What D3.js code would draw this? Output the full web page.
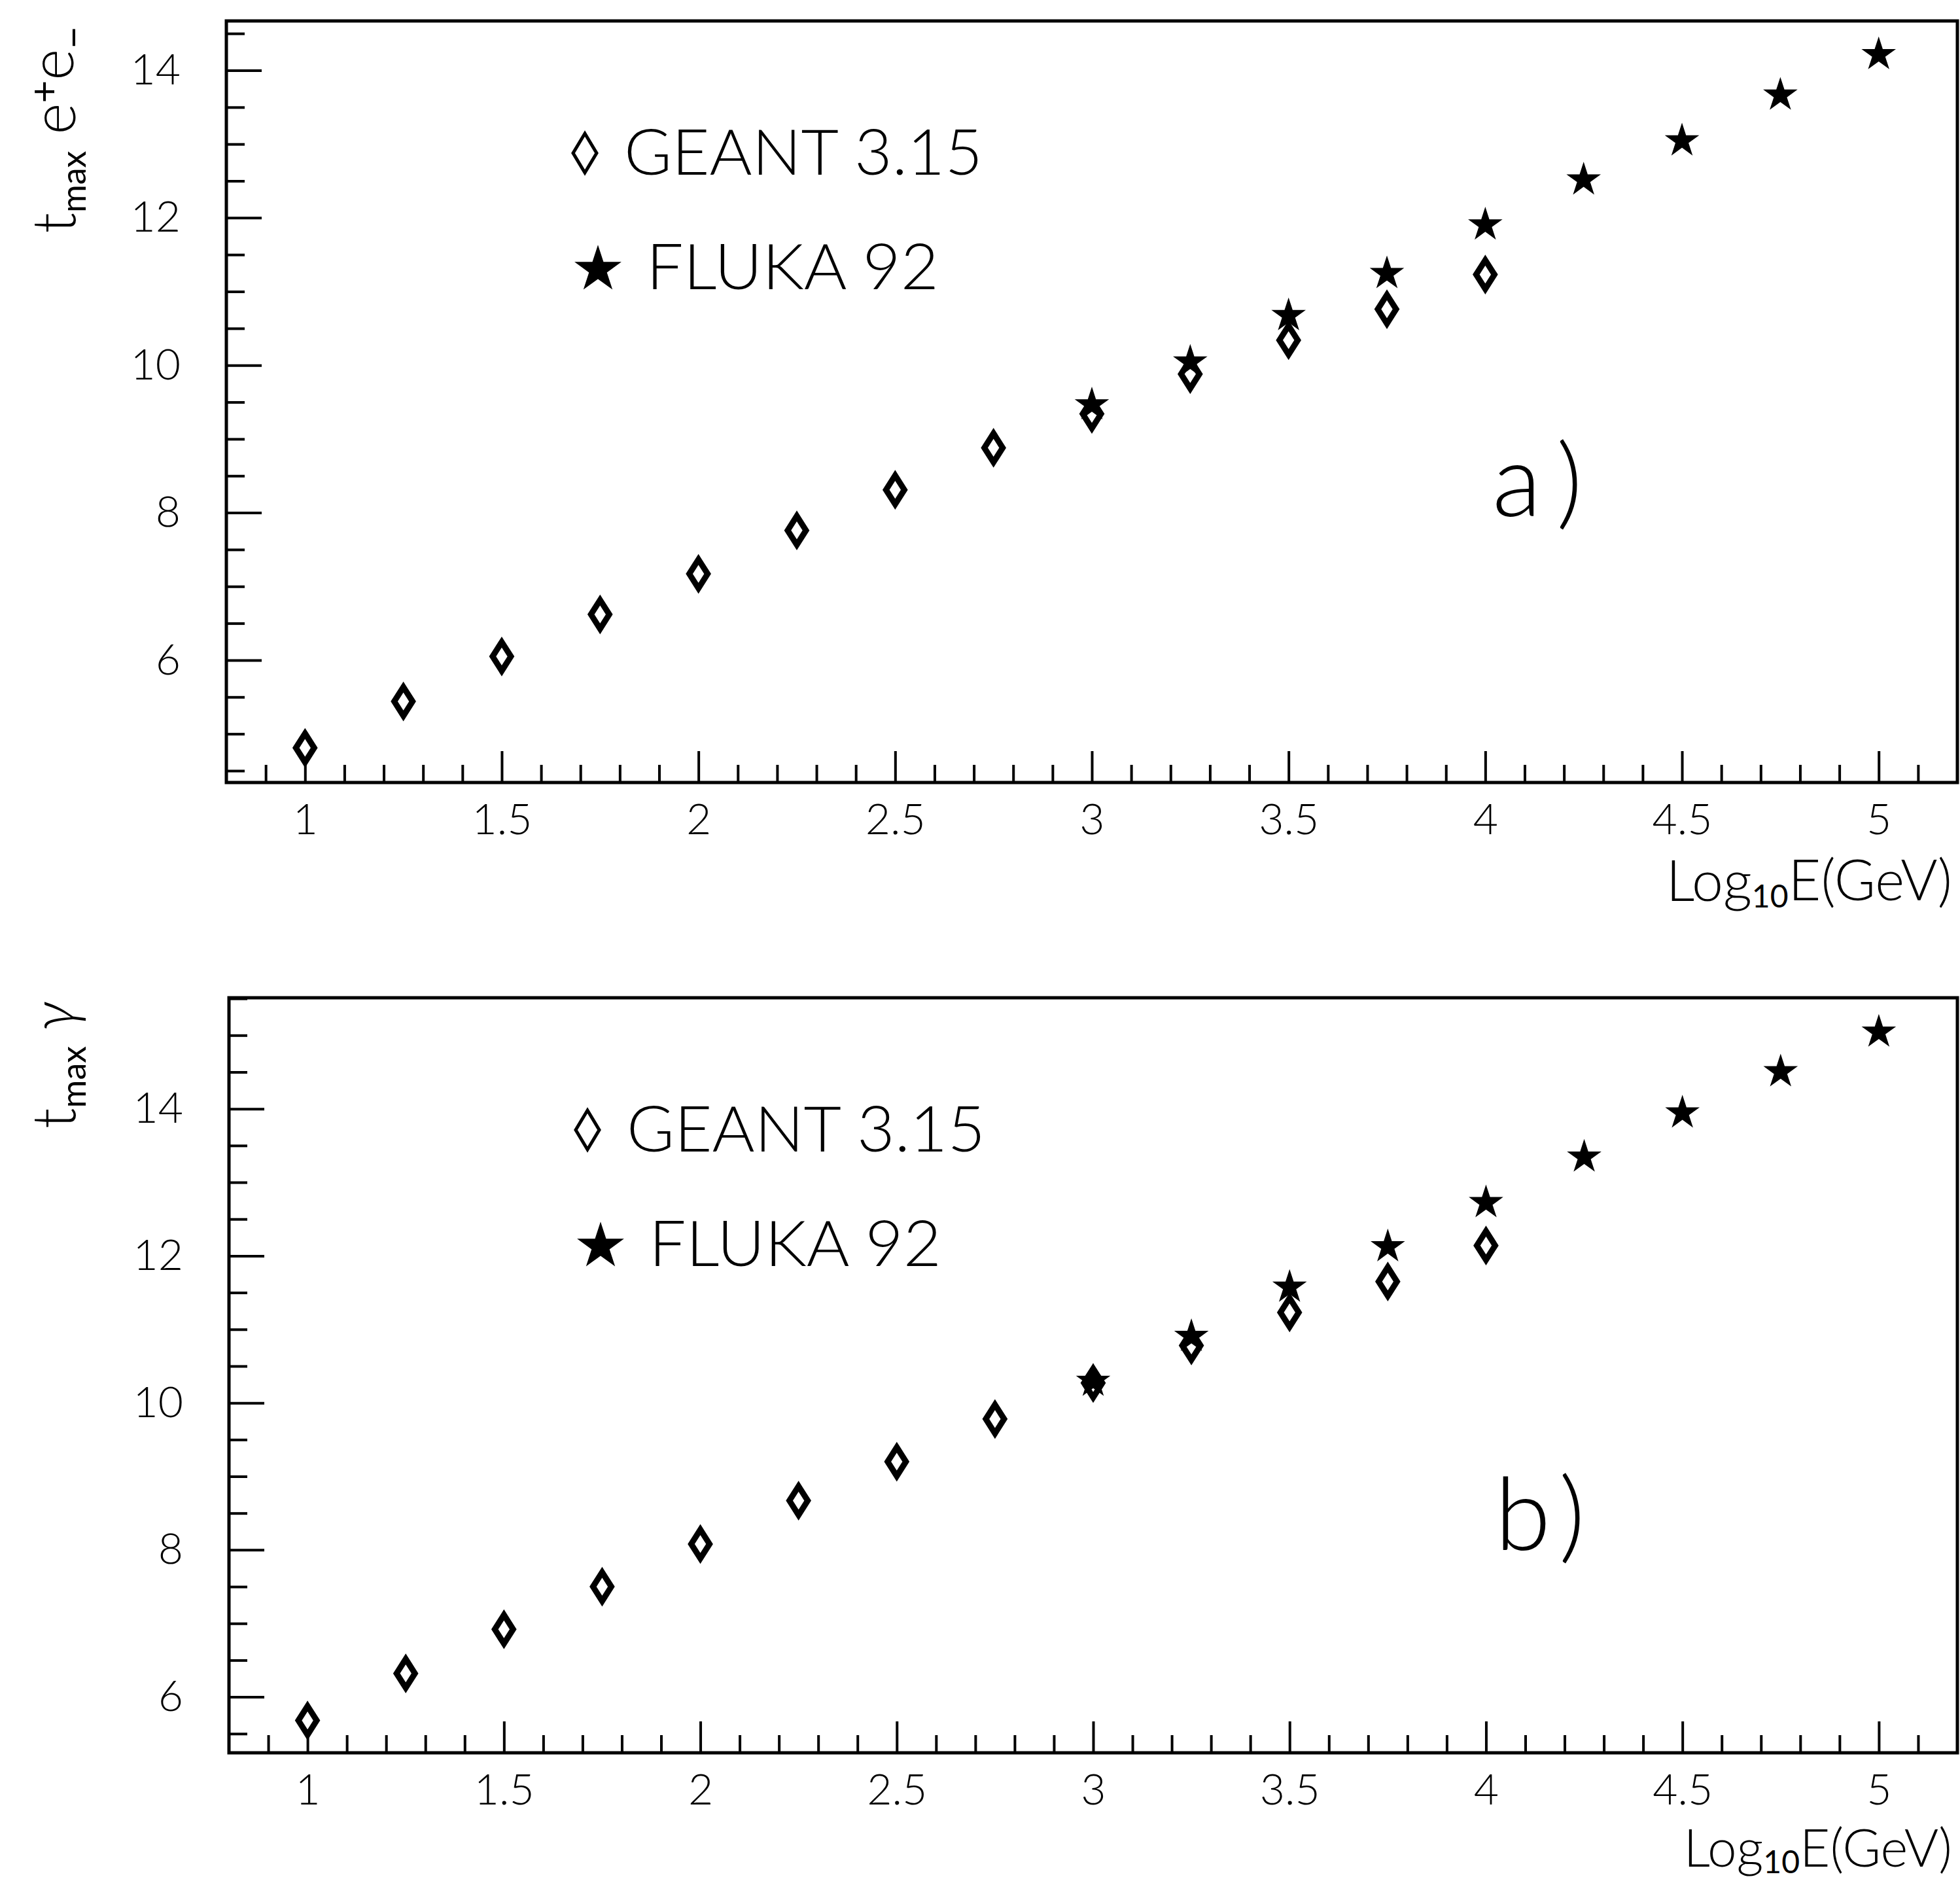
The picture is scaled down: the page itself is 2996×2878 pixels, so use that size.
<!DOCTYPE html>
<html>
<head>
<meta charset="utf-8">
<script src="https://cdn.jsdelivr.net/npm/d3@7"></script>
<style>
  body { margin: 0; background: #fff; }
  svg { display: block; font-family: Lato, "DejaVu Sans", sans-serif; font-weight: 300; }
</style>
</head>
<body>
<svg id="chart" width="2996" height="2878"></svg>
<script>
// shower maximum t_max vs log10 E, GEANT 3.15 vs FLUKA 92
var energyGeant = [1, 1.25, 1.5, 1.75, 2, 2.25, 2.5, 2.75, 3, 3.25, 3.5, 3.75, 4];
var energyFluka = [3, 3.25, 3.5, 3.75, 4, 4.25, 4.5, 4.75, 5];

// a) electrons / positrons
var geantElectron = [4.81, 5.44, 6.05, 6.62, 7.17, 7.76, 8.31, 8.88, 9.34, 9.88, 10.34, 10.76, 11.23];
var flukaElectron = [9.49, 10.07, 10.70, 11.27, 11.93, 12.54, 13.07, 13.69, 14.24];

// b) photons
var geantPhoton = [5.68, 6.32, 6.92, 7.50, 8.08, 8.67, 9.20, 9.78, 10.27, 10.78, 11.23, 11.65, 12.14];
var flukaPhoton = [10.32, 10.93, 11.60, 12.15, 12.75, 13.37, 13.97, 14.53, 15.07];

var xMajorTicks = [1, 1.5, 2, 2.5, 3, 3.5, 4, 4.5, 5];
var yMajorTicks = [6, 8, 10, 12, 14];
var seriesNames = ["GEANT 3.15", "FLUKA 92"];
var panelTags = ["a)", "b)"];

var svg = d3.select("#chart");
svg.append("rect").attr("width", 2996).attr("height", 2878).attr("fill", "#fff");

function diamondPath(w, h) {
  return "M0," + (-h) + "L" + w + ",0L0," + h + "L" + (-w) + ",0Z";
}

function drawPanel(p) {
  var x = d3.scaleLinear().domain([0.8, 5.2]).range([p.left, p.right]);
  var y = d3.scaleLinear().domain(p.yDomain).range([p.bottom, p.top]);
  var g = svg.append("g");

  // minor ticks, x every 0.1, y every 0.5
  var xMinor = d3.range(0.9, 5.15, 0.1).filter(function(v) {
    return !xMajorTicks.some(function(m) { return Math.abs(m - v) < 1e-6; });
  });
  var yMinor = d3.range(Math.ceil(p.yDomain[0] * 2) / 2, p.yDomain[1], 0.5).filter(function(v) {
    return v % 2 !== 0;
  });

  g.append("g")
      .attr("transform", "translate(0," + p.bottom + ")")
      .call(d3.axisBottom(x).tickValues(xMinor).tickSize(-27).tickFormat(""));
  g.append("g")
      .attr("transform", "translate(0," + p.bottom + ")")
      .call(d3.axisBottom(x).tickValues(xMajorTicks).tickSize(-48).tickPadding(32)
        .tickFormat(function(d) { return d; }));
  g.append("g")
      .attr("transform", "translate(" + p.left + ",0)")
      .call(d3.axisLeft(y).tickValues(yMinor).tickSize(-28).tickFormat(""));
  g.append("g")
      .attr("transform", "translate(" + p.left + ",0)")
      .call(d3.axisLeft(y).tickValues(yMajorTicks).tickSize(-54).tickPadding(70));

  g.selectAll(".domain").remove();
  g.selectAll(".tick line").attr("stroke", "#000").attr("stroke-width", 4);
  g.selectAll(".tick text")
      .attr("fill", "#000")
      .style("font-size", "66px")
      .style("font-family", "Lato, 'DejaVu Sans', sans-serif")
      .style("font-weight", 300);

  g.append("rect")
      .attr("x", p.left).attr("y", p.top)
      .attr("width", p.right - p.left).attr("height", p.bottom - p.top)
      .attr("fill", "none").attr("stroke", "#000").attr("stroke-width", 5);

  // data
  g.selectAll(".geant").data(energyGeant).enter().append("path")
      .attr("class", "geant")
      .attr("transform", function(d, i) { return "translate(" + x(d) + "," + y(p.geant[i]) + ")"; })
      .attr("d", diamondPath(14, 22))
      .attr("fill", "#fff").attr("stroke", "#000").attr("stroke-width", 9)
      .attr("stroke-linejoin", "miter").attr("stroke-miterlimit", 10);

  var star = d3.symbol().type(d3.symbolStar).size(860);
  g.selectAll(".fluka").data(energyFluka).enter().append("path")
      .attr("class", "fluka")
      .attr("transform", function(d, i) { return "translate(" + x(d) + "," + (y(p.fluka[i]) + 3) + ")"; })
      .attr("d", star())
      .attr("fill", "#000");

  // legend
  var lx = p.left + 548, ly = p.top + 202;
  g.append("path")
      .attr("transform", "translate(" + lx + "," + ly + ")")
      .attr("d", diamondPath(18, 30))
      .attr("fill", "none").attr("stroke", "#000").attr("stroke-width", 5);
  g.append("text")
      .attr("x", lx + 60).attr("y", ly + 33)
      .attr("textLength", 548).attr("lengthAdjust", "spacingAndGlyphs")
      .style("font-size", "96px")
      .text(seriesNames[0]);
  g.append("path")
      .attr("transform", "translate(" + (lx + 20) + "," + (ly + 178) + ")")
      .attr("d", d3.symbol().type(d3.symbolStar).size(1600)())
      .attr("fill", "#000");
  g.append("text")
      .attr("x", lx + 94).attr("y", ly + 208)
      .attr("textLength", 447).attr("lengthAdjust", "spacingAndGlyphs")
      .style("font-size", "96px")
      .text(seriesNames[1]);

  // panel tag
  g.append("text")
      .attr("x", p.left + 1935).attr("y", p.top + p.tagDy)
      .attr("textLength", 138).attr("lengthAdjust", "spacing")
      .style("font-size", "155px")
      .text(p.tag);

  // x title
  var xt = g.append("text")
      .attr("x", p.right - 8).attr("y", p.bottom + p.xTitleDy)
      .attr("text-anchor", "end")
      .style("font-size", p.xTitleSize + "px");
  xt.append("tspan").text("Log");
  xt.append("tspan").attr("dy", "0.2em").style("font-size", "48px").style("font-weight", 400).text("10");
  xt.append("tspan").attr("dy", "-0.12em").text("E(GeV)");

  // y title, rotated, anchored at top of frame
  var yt = g.append("text")
      .attr("transform", "translate(115," + (p.top + p.yTitleDy) + ") rotate(-90)")
      .attr("text-anchor", "end")
      .style("font-size", "92px");
  yt.append("tspan").text("t");
  yt.append("tspan").attr("dy", "0.3em").style("font-size", "52px").style("font-weight", 400).text("max");
  p.yTitle(yt);
}

drawPanel({
  left: 346, right: 2992, top: 32, bottom: 1196,
  yDomain: [4.34, 14.67],
  geant: geantElectron, fluka: flukaElectron,
  tag: panelTags[0], tagDy: 757, yTitleDy: 8, xTitleDy: 181, xTitleSize: 86,
  yTitle: function(t) {
    t.append("tspan").attr("dy", "-0.17em").text(" e");
    t.append("tspan").attr("dy", "-0.45em").style("font-size", "60px").style("font-weight", 400).text("+");
    t.append("tspan").attr("dy", "0.26em").text("e");
    t.append("tspan").attr("dy", "0.35em").style("font-size", "60px").style("font-weight", 400).text("\u2212");
  }
});

drawPanel({
  left: 350, right: 2992, top: 1525, bottom: 2679,
  yDomain: [5.24, 15.51],
  geant: geantPhoton, fluka: flukaPhoton,
  tag: panelTags[1], tagDy: 844, yTitleDy: 6, xTitleDy: 174, xTitleSize: 80,
  yTitle: function(t) {
    t.append("tspan").attr("dy", "-0.17em").style("font-style", "italic").text(" \u03b3");
  }
});
</script>
</body>
</html>
